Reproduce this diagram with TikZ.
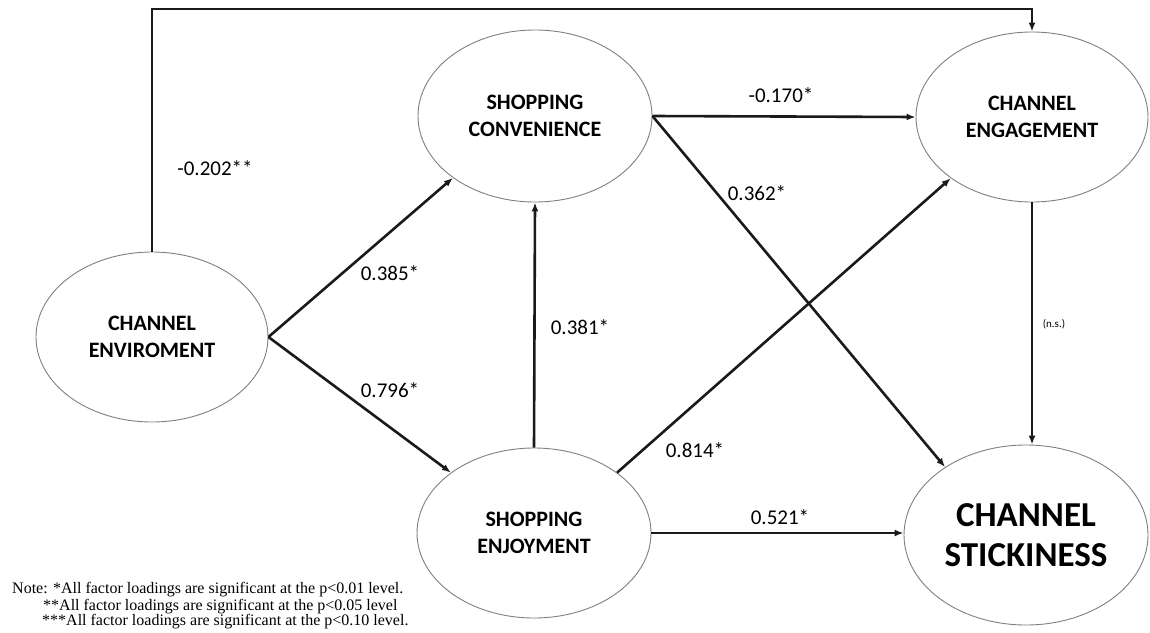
\documentclass[tikz,border=0pt]{standalone}
\usepackage{fontspec}
\setsansfont{Carlito}
\newfontfamily\notefont{Liberation Serif}
\usepackage{xcolor}
\usepackage{tikz}
\usetikzlibrary{arrows.meta,shapes.geometric}
\definecolor{rimgray}{HTML}{7F7F7F}
\definecolor{linkblack}{HTML}{1A1A1A}

\begin{document}
\begin{tikzpicture}[x=1pt,y=-1pt,
  latent/.style={ellipse,draw=rimgray,line width=0.9pt,inner sep=0pt,minimum width=234pt,minimum height=170pt,align=center,font=\sffamily\bfseries\fontsize{22}{27}\selectfont},
  link/.style={draw=linkblack,line width=2.6pt,-{Latex[length=9pt,width=7pt]}},
  coef/.style={font=\sffamily\fontsize{21}{25}\selectfont},
  notes/.style={anchor=west,inner sep=0pt,font=\notefont\fontsize{16}{16}\selectfont}]
  \useasboundingbox (0,0) rectangle (1150,632);
  \node[latent,minimum width=232pt] (env) at (152,337) {CHANNEL\\ENVIROMENT};
  \node[latent,minimum height=172pt] (conv) at (535,116) {SHOPPING\\CONVENIENCE};
  \node[latent,minimum width=232pt] (eng) at (1032,117) {CHANNEL\\ENGAGEMENT};
  \node[latent] (enj) at (534,533) {SHOPPING\\ENJOYMENT};
  \node[latent,minimum width=244pt,minimum height=180pt,font=\sffamily\bfseries\fontsize{35}{40}\selectfont] (stick) at (1026,535) {CHANNEL\\STICKINESS};
  \coordinate (top) at (600,9);
  \draw[link] (env.north) |- (top) -| (eng.north);
  \draw[link] (env.east) -- (conv.217);
  \draw[link] (env.east) -- (enj.144);
  \draw[link] (enj.north) -- (conv.south);
  \draw[link] (conv.east) -- (eng.west);
  \draw[link] (conv.east) -- (stick.140);
  \draw[link] (enj.36) -- (eng.217);
  \draw[link] (enj.east) -- (enj.east -| stick.west);
  \draw[link] (eng.south) -- (eng.south |- stick.north);
  \node[coef] (c202) at (215,168) {-0.202**};
  \node[coef] (c385) at (390,273) {0.385*};
  \node[coef] (c796) at (390,390) {0.796*};
  \node[coef] (c381) at (580,327) {0.381*};
  \node[coef] (c170) at (781,95) {-0.170*};
  \node[coef] (c362) at (757,193) {0.362*};
  \node[coef] (c814) at (695,450) {0.814*};
  \node[coef] (c521) at (780,517) {0.521*};
  \node[font=\sffamily\fontsize{11}{12}\selectfont] (cns) at (1054,324) {(n.s.)};
  \node[notes] (note1) at (12,590) {Note: *All factor loadings are significant at the p<0.01 level.};
  \node[notes] (note2) at (43,607) {**All factor loadings are significant at the p<0.05 level};
  \node[notes] (note3) at (42,622) {***All factor loadings are significant at the p<0.10 level.};
\end{tikzpicture}
\end{document}
